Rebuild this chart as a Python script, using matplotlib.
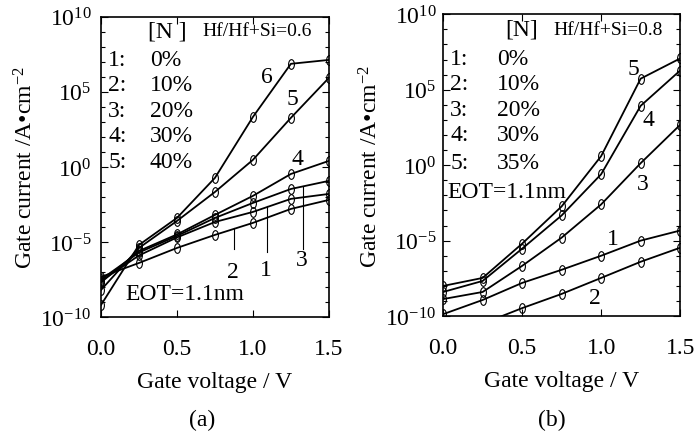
import numpy as np
import matplotlib
matplotlib.use("Agg")
import matplotlib.pyplot as plt
import matplotlib.transforms as mtransforms
from matplotlib.path import Path
from matplotlib.ticker import FuncFormatter

plt.rcParams['font.family'] = 'Liberation Serif'
plt.rcParams['mathtext.fontset'] = 'custom'
plt.rcParams['mathtext.rm'] = 'Liberation Serif'
plt.rcParams['mathtext.it'] = 'Liberation Serif:italic'
plt.rcParams['font.size'] = 17

# gate voltage (V)
voltage = [0.0, 0.25, 0.5, 0.75, 1.0, 1.25, 1.5]

# (a) Hf/Hf+Si=0.6, log10 of gate current (A/cm^2)
a_curve1 = [-7.6, -5.9, -4.7, -3.67, -3.0, -2.13, -1.8]
a_curve2 = [-7.33, -6.4, -5.4, -4.53, -3.73, -2.8, -2.2]
a_curve3 = [-7.5, -5.7, -4.6, -3.4, -2.4, -1.47, -0.93]
a_curve4 = [-7.7, -5.6, -4.5, -3.2, -1.93, -0.47, 0.4]
a_curve5 = [-8.2, -5.4, -3.6, -1.67, 0.47, 3.27, 5.93]
a_curve6 = [-9.2, -5.2, -3.4, -0.73, 3.33, 6.87, 7.13]
a_legend = ['0%', '10%', '20%', '30%', '40%']

# (b) Hf/Hf+Si=0.8
b_curve1 = [-9.87, -8.93, -7.8, -6.93, -6.0, -5.0, -4.33]
b_curve2 = [np.nan, -10.5, -9.47, -8.53, -7.47, -6.4, -5.47]
b_curve3 = [-8.87, -8.4, -6.67, -4.8, -2.6, 0.13, 2.67]
b_curve4 = [-8.4, -7.67, -5.53, -3.33, -0.6, 3.93, 6.27]
b_curve5 = [-8.0, -7.47, -5.2, -2.73, 0.6, 5.73, 7.07]
b_legend = ['0%', '10%', '20%', '30%', '35%']

# open ellipse marker like the scanned figure
ellipse = Path.unit_circle().transformed(mtransforms.Affine2D().scale(0.6, 1.0))


def setup_axes(ax, ypad=7):
    ax.set_yscale('log')
    ax.set_xlim(0, 1.5)
    ax.set_ylim(1e-10, 1e10)
    ax.set_xticks([0.0, 0.5, 1.0, 1.5])
    ax.set_xticklabels(['0.0', '0.5', '1.0', '1.5'])
    ax.set_yticks([10.0 ** k for k in range(-10, 11, 5)])
    ax.set_yticks([10.0 ** k for k in range(-10, 11)], minor=True)
    ax.yaxis.set_major_formatter(FuncFormatter(lambda v, p: r'$10^{%d}$' % round(np.log10(v))))
    ax.yaxis.set_minor_formatter(FuncFormatter(lambda v, p: ''))
    ax.tick_params(which='both', direction='in', top=True, right=True, width=0.8)
    ax.tick_params(which='major', length=5)
    ax.tick_params(which='minor', length=3)
    ax.yaxis.set_tick_params(pad=ypad)
    ax.xaxis.set_tick_params(pad=15)
    for s in ax.spines.values():
        s.set_linewidth(1.2)
    ax.set_xlabel('Gate voltage / V', labelpad=9)
    ax.set_ylabel(r'Gate current /A•cm$^{-2}$', labelpad=2)


def draw(ax, curves):
    for c in curves:
        ax.plot(voltage, 10.0 ** np.array(c), color='black', lw=1.3,
                marker=ellipse, ms=7, mfc='none', mec='black', mew=0.8)


fig = plt.figure(figsize=(6.99, 4.35), dpi=100)

# ---- panel (a)
ax1 = fig.add_axes([0.1445, 0.269, 0.326, 0.690])
setup_axes(ax1)
draw(ax1, [a_curve1, a_curve2, a_curve3, a_curve4, a_curve5, a_curve6])
ax1.text(0.206, 0.953, '[N ]', transform=ax1.transAxes, va='center')
ax1.text(0.447, 0.953, 'Hf/Hf+Si=0.6', transform=ax1.transAxes, va='center', fontsize=14)
rows = [0.857, 0.773, 0.687, 0.603, 0.517]
for i, (lab, y) in enumerate(zip(a_legend, rows)):
    ax1.text(0.031, y, '%d:' % (i + 1), transform=ax1.transAxes, va='center')
    ax1.text(0.215, y, lab, transform=ax1.transAxes, va='center')
ax1.text(0.105, 0.077, 'EOT=1.1nm', transform=ax1.transAxes, va='center')
for lab, x, y in [('6', 0.728, 0.80), ('5', 0.842, 0.727), ('4', 0.864, 0.527)]:
    ax1.text(x, y, lab, transform=ax1.transAxes, ha='center', va='center')
# leader lines for labels 2, 1, 3
for lab, xv, ytop, ybot, yl in [('2', 0.875, -4.07, -5.47, 0.15),
                                 ('1', 1.09, -2.6, -5.67, 0.157),
                                 ('3', 1.33, -1.27, -5.47, 0.19)]:
    ax1.plot([xv, xv], [10.0 ** ytop, 10.0 ** ybot], color='black', lw=0.8)
    ax1.text(xv / 1.5 - 0.005, yl, lab, transform=ax1.transAxes, ha='center', va='center')

# ---- panel (b)
ax2 = fig.add_axes([0.634, 0.271, 0.339, 0.694])
setup_axes(ax2, ypad=5)
draw(ax2, [b_curve1, b_curve2, b_curve3, b_curve4, b_curve5])
ax2.text(0.262, 0.95, '[N]', transform=ax2.transAxes, va='center')
ax2.text(0.464, 0.95, 'Hf/Hf+Si=0.8', transform=ax2.transAxes, va='center', fontsize=14)
rows = [0.853, 0.77, 0.683, 0.6, 0.51]
for i, (lab, y) in enumerate(zip(b_legend, rows)):
    ax2.text(0.03, y, '%d:' % (i + 1), transform=ax2.transAxes, va='center')
    ax2.text(0.228, y, lab, transform=ax2.transAxes, va='center')
ax2.text(0.017, 0.413, 'EOT=1.1nm', transform=ax2.transAxes, va='center')
for lab, x, y in [('5', 0.802, 0.82), ('4', 0.865, 0.65), ('3', 0.844, 0.44),
                  ('1', 0.717, 0.257), ('2', 0.641, 0.063)]:
    ax2.text(x, y, lab, transform=ax2.transAxes, ha='center', va='center')

fig.text(202 / 699, 1 - 420 / 435, '(a)', ha='center', va='center')
fig.text(552 / 699, 1 - 420 / 435, '(b)', ha='center', va='center')

fig.savefig('out.png', dpi=100)
